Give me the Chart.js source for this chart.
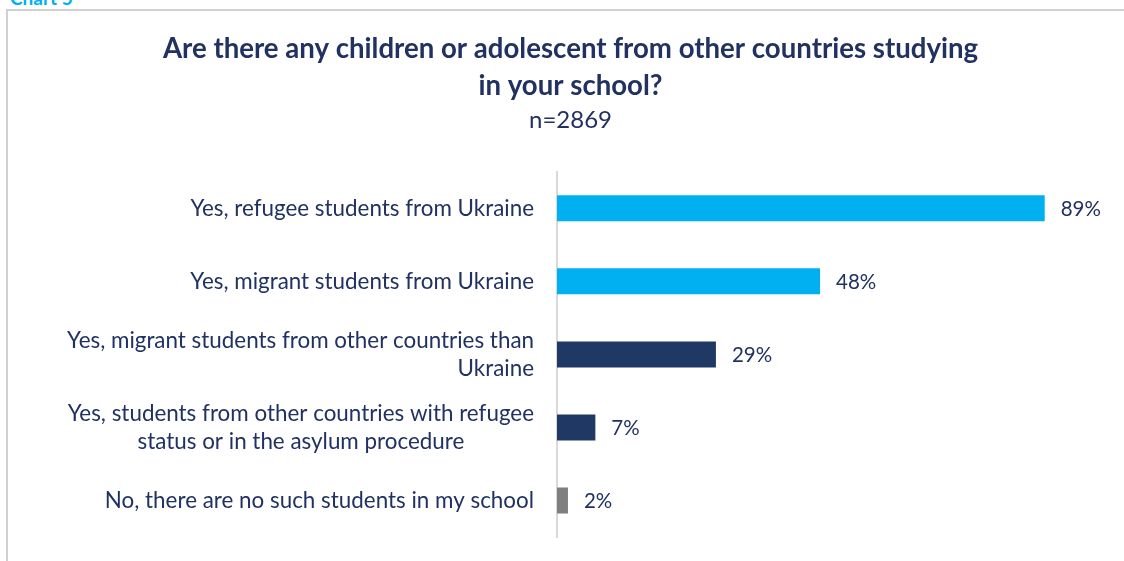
<!DOCTYPE html>
<html>
<head>
<meta charset="utf-8">
<script src="https://cdn.jsdelivr.net/npm/chart.js@4.4.1/dist/chart.umd.min.js"></script>
<style>
    html, body { margin: 0; padding: 0; background: #fff; }
    body { width: 1124px; height: 561px; position: relative; overflow: hidden; }
    #caption {
        position: absolute; left: 10px; top: -14px;
        font: bold 19px Lato, sans-serif; color: #00B0F0;
    }
    #frame {
        position: absolute; left: 6px; top: 9px; width: 1200px; height: 600px;
        border-left: 2px solid #D0D0D0; border-top: 2px solid #D0D0D0;
    }
    #wrap { position: absolute; left: 0; top: 0; width: 1124px; height: 561px; }
</style>
</head>
<body>
<div id="caption">Chart 5</div>
<div id="frame"></div>
<div id="wrap"><canvas id="chart"></canvas></div>
<script>
// Answer categories (one entry per line of the label)
const categories = [
    ['Yes, refugee students from Ukraine'],
    ['Yes, migrant students from Ukraine'],
    ['Yes, migrant students from other countries than', 'Ukraine'],
    ['Yes, students from other countries with refugee', 'status or in the asylum procedure'],
    ['No, there are no such students in my school']
];
// Share of schools, %
const values = [89, 48, 29, 7, 2];

const barColors = ['#00B0F0', '#00B0F0', '#203864', '#203864', '#7F7F7F'];
const textColor = '#213262';
const fontFamily = 'Lato, "Open Sans", sans-serif';
// how each wrapped label line is aligned against the axis
const lineAlign = [['right'], ['right'], ['right', 'right'], ['right', 'center'], ['right']];

// Category labels drawn next to the y axis
const categoryLabels = {
    id: 'categoryLabels',
    afterDraw(chart) {
        const ctx = chart.ctx;
        const yScale = chart.scales.y;
        const right = chart.chartArea.left - 23;
        const lineH = 28;
        ctx.save();
        ctx.font = '22.4px ' + fontFamily;
        ctx.fillStyle = textColor;
        ctx.textBaseline = 'middle';
        categories.forEach((lines, i) => {
            const yc = yScale.getPixelForValue(i);
            const widest = Math.max(...lines.map(l => ctx.measureText(l).width));
            lines.forEach((line, j) => {
                const y = yc + (j - (lines.length - 1) / 2) * lineH;
                if (lineAlign[i][j] === 'center') {
                    ctx.textAlign = 'center';
                    ctx.fillText(line, right - widest / 2, y);
                } else {
                    ctx.textAlign = 'right';
                    ctx.fillText(line, right, y);
                }
            });
        });
        ctx.restore();
    }
};

// Percent labels at the end of each bar
const valueLabels = {
    id: 'valueLabels',
    afterDatasetsDraw(chart) {
        const ctx = chart.ctx;
        const meta = chart.getDatasetMeta(0);
        ctx.save();
        ctx.font = '20.5px ' + fontFamily;
        ctx.fillStyle = textColor;
        ctx.textAlign = 'left';
        ctx.textBaseline = 'middle';
        meta.data.forEach((bar, i) => {
            ctx.fillText(values[i] + '%', bar.x + 16, bar.y + 1);
        });
        ctx.restore();
    }
};

const chart = new Chart(document.getElementById('chart'), {
    type: 'bar',
    data: {
        labels: categories.map(l => l.join(' ')),
        datasets: [{
            data: values,
            backgroundColor: barColors,
            categoryPercentage: 1,
            barPercentage: 0.356
        }]
    },
    options: {
        indexAxis: 'y',
        responsive: true,
        maintainAspectRatio: false,
        animation: false,
        layout: { padding: { left: 36, right: 19, top: 0, bottom: 24 } },
        plugins: {
            legend: { display: false },
            tooltip: { enabled: false },
            title: {
                display: true,
                text: ['Are there any children or adolescent from other countries studying', 'in your school?'],
                color: textColor,
                font: { family: fontFamily, size: 27.6, weight: 'bold', lineHeight: 1.34 },
                padding: { top: 31, bottom: 0 }
            },
            subtitle: {
                display: true,
                text: 'n=2869',
                color: textColor,
                font: { family: fontFamily, size: 24, lineHeight: 1.2 },
                padding: { top: 1, bottom: 37 }
            }
        },
        scales: {
            x: {
                display: false,
                min: 0,
                max: 100
            },
            y: {
                grid: { display: false, drawTicks: false },
                border: { display: true, color: '#D9D9D9', width: 2 },
                ticks: { display: false },
                afterFit(scale) { scale.width = 521; }
            }
        }
    },
    plugins: [categoryLabels, valueLabels]
});
</script>
</body>
</html>
